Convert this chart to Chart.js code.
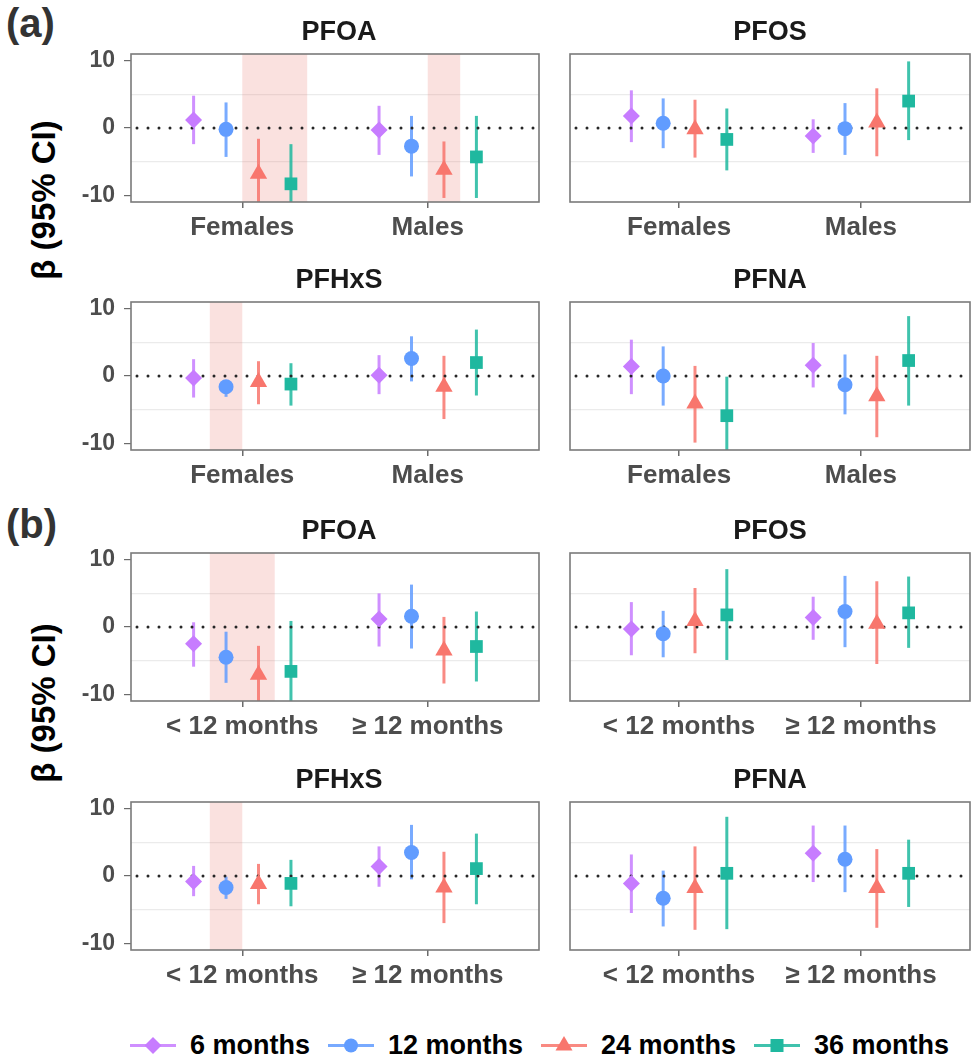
<!DOCTYPE html>
<html>
<head>
<meta charset="utf-8">
<script src="https://cdn.jsdelivr.net/npm/chart.js@4.4.1/dist/chart.umd.min.js"></script>
<style>
  html, body { margin: 0; padding: 0; background: #fff; overflow: hidden; }
  #wrap { position: relative; width: 974px; height: 1062px; overflow: hidden;
          font-family: "Liberation Sans", Arial, Helvetica, sans-serif; }
  #wrap canvas { position: absolute; }
  .title { position: absolute; font-weight: bold; font-size: 27px; color: #1a1a1a;
           transform: translate(-50%, -50%); white-space: nowrap; }
  .tag { position: absolute; font-weight: bold; font-size: 40px; line-height: 46px; color: #333; }
  .ytitle { position: absolute; font-weight: bold; font-size: 33px; color: #000; white-space: nowrap;
            transform: translate(-50%, -50%) rotate(-90deg); }
  #legend { position: absolute; left: 130px; top: 1027px; display: flex; align-items: center; }
  #legend .item { display: flex; align-items: center; margin-right: 18px; }
  #legend .item span { font-weight: bold; font-size: 27px; color: #000; margin-left: 14px; }
</style>
</head>
<body>
<div id="wrap"></div>
<script>
// ---- data ----
const sexGroups = ["Females", "Males"];
const ageGroups = ["< 12 months", "\u2265 12 months"];
const seriesLabels = ["6 months", "12 months", "24 months", "36 months"];
const seriesColors = ["#C77CFF", "#619CFF", "#F8766D", "#1FB89F"];
const seriesShapes = ["rectRot", "circle", "triangle", "rect"];
const yTickValues = [-10, 0, 10];

// rows = groups, columns = 6 / 12 / 24 / 36 months
// (a) by sex
const sexPfoaEst  = [[1.2, -0.2, -6.8, -8.3], [-0.3, -2.7, -6.2, -4.3]];
const sexPfoaLow  = [[-2.4, -4.3, -12.4, -14.3], [-4.0, -7.2, -10.4, -10.4]];
const sexPfoaHigh = [[4.8, 3.8, -1.6, -2.4], [3.3, 1.8, -2.0, 1.8]];
const sexPfoaSig  = [[0, 0, 1, 1], [0, 0, 1, 0]];

const sexPfosEst  = [[1.8, 0.7, -0.2, -1.7], [-1.2, -0.1, 0.8, 4.0]];
const sexPfosLow  = [[-2.1, -3.0, -4.4, -6.3], [-3.7, -4.0, -4.2, -1.8]];
const sexPfosHigh = [[5.6, 4.4, 4.2, 2.9], [1.3, 3.7, 5.9, 9.9]];
const sexPfosSig  = [[0, 0, 0, 0], [0, 0, 0, 0]];

const sexPfhxsEst  = [[-0.3, -1.6, -0.9, -1.2], [0.1, 2.6, -1.6, 2.0]];
const sexPfhxsLow  = [[-3.2, -3.1, -4.2, -4.4], [-2.7, -0.8, -6.4, -2.9]];
const sexPfhxsHigh = [[2.5, -0.6, 2.2, 1.9], [3.1, 5.9, 3.0, 6.9]];
const sexPfhxsSig  = [[0, 1, 0, 0], [0, 0, 0, 0]];

const sexPfnaEst  = [[1.4, 0.0, -4.1, -5.9], [1.6, -1.3, -3.0, 2.3]];
const sexPfnaLow  = [[-2.7, -4.4, -9.9, -11.8], [-1.7, -5.7, -9.1, -4.4]];
const sexPfnaHigh = [[5.4, 4.4, 1.5, -0.1], [4.9, 3.2, 3.0, 8.9]];
const sexPfnaSig  = [[0, 0, 0, 0], [0, 0, 0, 0]];

// (b) by breastfeeding duration
const agePfoaEst  = [[-2.5, -4.5, -7.1, -6.6], [1.2, 1.6, -3.5, -2.9]];
const agePfoaLow  = [[-5.9, -8.3, -12.0, -14.1], [-2.9, -3.2, -8.4, -8.1]];
const agePfoaHigh = [[0.7, -0.7, -2.8, 0.9], [5.0, 6.3, 1.5, 2.3]];
const agePfoaSig  = [[0, 1, 1, 0], [0, 0, 0, 0]];

const agePfosEst  = [[-0.3, -1.0, 0.9, 1.8], [1.4, 2.3, 0.5, 2.1]];
const agePfosLow  = [[-4.2, -4.5, -3.9, -4.9], [-1.9, -3.0, -5.5, -3.1]];
const agePfosHigh = [[3.7, 2.4, 5.8, 8.6], [4.5, 7.6, 6.8, 7.5]];
const agePfosSig  = [[0, 0, 0, 0], [0, 0, 0, 0]];

const agePfhxsEst  = [[-0.8, -1.7, -1.2, -1.1], [1.4, 3.5, -1.7, 1.1]];
const agePfhxsLow  = [[-3.0, -3.4, -4.2, -4.5], [-1.6, -0.5, -7.0, -4.2]];
const agePfhxsHigh = [[1.5, -0.1, 1.8, 2.4], [4.4, 7.6, 3.6, 6.3]];
const agePfhxsSig  = [[0, 1, 0, 0], [0, 0, 0, 0]];

const agePfnaEst  = [[-1.1, -3.3, -1.8, 0.4], [3.4, 2.5, -1.8, 0.4]];
const agePfnaLow  = [[-5.5, -7.5, -8.0, -7.9], [-0.9, -2.4, -7.7, -4.6]];
const agePfnaHigh = [[3.2, 0.8, 4.4, 8.8], [7.5, 7.5, 4.0, 5.4]];
const agePfnaSig  = [[0, 0, 0, 0], [0, 0, 0, 0]];

// ---- layout ----
const FONT = '"Liberation Sans", Arial, Helvetica, sans-serif';
const dodge = [-0.2625, -0.0875, 0.0875, 0.2625];
const bandHalf = 0.0875;
const pointRadius = [8.5, 7.5, 10, 9];
const colCanvasLeft = [72, 560];
const colCanvasWidth = [477, 420];
const rowPanelTop = [54, 302, 553, 802];
const panelHeight = 148;
const xAxisHeight = 45;
const padTop = 14;

const panels = [
  { title: "PFOA",  groups: sexGroups, est: sexPfoaEst,  low: sexPfoaLow,  high: sexPfoaHigh,  sig: sexPfoaSig,  row: 0, col: 0 },
  { title: "PFOS",  groups: sexGroups, est: sexPfosEst,  low: sexPfosLow,  high: sexPfosHigh,  sig: sexPfosSig,  row: 0, col: 1 },
  { title: "PFHxS", groups: sexGroups, est: sexPfhxsEst, low: sexPfhxsLow, high: sexPfhxsHigh, sig: sexPfhxsSig, row: 1, col: 0 },
  { title: "PFNA",  groups: sexGroups, est: sexPfnaEst,  low: sexPfnaLow,  high: sexPfnaHigh,  sig: sexPfnaSig,  row: 1, col: 1 },
  { title: "PFOA",  groups: ageGroups, est: agePfoaEst,  low: agePfoaLow,  high: agePfoaHigh,  sig: agePfoaSig,  row: 2, col: 0 },
  { title: "PFOS",  groups: ageGroups, est: agePfosEst,  low: agePfosLow,  high: agePfosHigh,  sig: agePfosSig,  row: 2, col: 1 },
  { title: "PFHxS", groups: ageGroups, est: agePfhxsEst, low: agePfhxsLow, high: agePfhxsHigh, sig: agePfhxsSig, row: 3, col: 0 },
  { title: "PFNA",  groups: ageGroups, est: agePfnaEst,  low: agePfnaLow,  high: agePfnaHigh,  sig: agePfnaSig,  row: 3, col: 1 },
];

const wrap = document.getElementById("wrap");

function addDiv(cls, text, x, y) {
  const d = document.createElement("div");
  d.className = cls;
  d.textContent = text;
  d.style.left = x + "px";
  d.style.top = y + "px";
  wrap.appendChild(d);
  return d;
}

// shading, error bars, zero line, panel border
const decorPlugin = {
  id: "decor",
  beforeDatasetsDraw(chart, args, opts) {
    const p = opts.panel;
    const { ctx, chartArea: a } = chart;
    const x = chart.scales.x, y = chart.scales.y;
    ctx.save();
    ctx.beginPath();
    ctx.rect(a.left, a.top, a.right - a.left, a.bottom - a.top);
    ctx.clip();

    // shaded bands for significant estimates (contiguous runs merged)
    ctx.fillStyle = "rgba(232, 120, 110, 0.22)";
    p.sig.forEach((flags, g) => {
      let s = 0;
      while (s < flags.length) {
        if (!flags[s]) { s++; continue; }
        let e = s;
        while (e + 1 < flags.length && flags[e + 1]) e++;
        const x0 = x.getPixelForValue(g + 1 + dodge[s] - bandHalf);
        const x1 = x.getPixelForValue(g + 1 + dodge[e] + bandHalf);
        ctx.fillRect(x0, a.top, x1 - x0, a.bottom - a.top);
        s = e + 1;
      }
    });

    // error bars
    ctx.lineWidth = 3;
    ctx.lineCap = "butt";
    ctx.globalAlpha = 0.85;
    p.est.forEach((row, g) => row.forEach((v, s) => {
      const px = x.getPixelForValue(g + 1 + dodge[s]);
      ctx.strokeStyle = seriesColors[s];
      ctx.beginPath();
      ctx.moveTo(px, y.getPixelForValue(p.low[g][s]));
      ctx.lineTo(px, y.getPixelForValue(p.high[g][s]));
      ctx.stroke();
    }));
    ctx.globalAlpha = 1;

    // dotted zero line
    const zy = y.getPixelForValue(0);
    ctx.strokeStyle = "#262626";
    ctx.lineWidth = 3;
    ctx.lineCap = "round";
    ctx.setLineDash([0, 11]);
    ctx.beginPath();
    ctx.moveTo(a.left + 6, zy);
    ctx.lineTo(a.right, zy);
    ctx.stroke();
    ctx.restore();
  },
  afterDraw(chart) {
    const { ctx, chartArea: a } = chart;
    ctx.save();
    ctx.strokeStyle = "#7a7a7a";
    ctx.lineWidth = 1.6;
    ctx.strokeRect(a.left, a.top, a.right - a.left, a.bottom - a.top);
    ctx.restore();
  }
};

panels.forEach((p) => {
  const isLeft = p.col === 0;
  const canvas = document.createElement("canvas");
  canvas.width = colCanvasWidth[p.col];
  canvas.height = padTop + panelHeight + xAxisHeight;
  canvas.style.left = colCanvasLeft[p.col] + "px";
  canvas.style.top = (rowPanelTop[p.row] - padTop) + "px";
  wrap.appendChild(canvas);

  const left = colCanvasLeft[p.col] + 2 + (isLeft ? 57 : 0);
  const right = colCanvasLeft[p.col] + colCanvasWidth[p.col] - 2;
  addDiv("title", p.title, (left + right) / 2, rowPanelTop[p.row] - 23);

  const datasets = seriesLabels.map((label, s) => ({
    label,
    data: p.groups.map((gName, g) => ({ x: g + 1 + dodge[s], y: p.est[g][s] })),
    pointStyle: seriesShapes[s],
    pointRadius: pointRadius[s],
    backgroundColor: seriesColors[s],
    borderColor: seriesColors[s],
    borderWidth: 0,
    showLine: false,
  }));

  new Chart(canvas.getContext("2d"), {
    type: "scatter",
    data: { datasets },
    options: {
      responsive: false,
      animation: false,
      events: [],
      layout: { padding: { top: padTop, right: 2, left: 2, bottom: 0 } },
      plugins: { legend: { display: false }, tooltip: { enabled: false }, decor: { panel: p } },
      scales: {
        x: {
          type: "linear", min: 0.4, max: 2.6,
          afterBuildTicks: (sc) => { sc.ticks = [1, 2].map((v) => ({ value: v })); },
          afterFit: (sc) => {
            sc.height = xAxisHeight;
            sc.paddingLeft = 0; sc.paddingRight = 0; sc.paddingTop = 0; sc.paddingBottom = 0;
          },
          border: { display: false },
          grid: { drawOnChartArea: false, tickLength: 6, color: "#6b6b6b", lineWidth: 1.5 },
          ticks: {
            autoSkip: false, maxRotation: 0, padding: 4, color: "#4d4d4d",
            font: { family: FONT, size: 26, weight: "bold" },
            callback: (v) => p.groups[v - 1],
          },
        },
        y: {
          min: -11, max: 11,
          afterBuildTicks: (sc) => { sc.ticks = [-10, -5, 0, 5, 10].map((v) => ({ value: v })); },
          afterFit: (sc) => {
            sc.width = isLeft ? 57 : 0;
            sc.paddingLeft = 0; sc.paddingRight = 0; sc.paddingTop = 0; sc.paddingBottom = 0;
          },
          border: { display: false },
          grid: {
            lineWidth: 1.2,
            drawTicks: isLeft,
            tickLength: 7,
            color: (c) => (c.tick && Math.abs(c.tick.value) === 5 ? "#ebebeb" : "rgba(0,0,0,0)"),
            tickColor: (c) => (c.tick && Math.abs(c.tick.value) === 5 ? "rgba(0,0,0,0)" : "#6b6b6b"),
          },
          ticks: {
            display: isLeft, autoSkip: false, padding: 9, color: "#4d4d4d",
            font: { family: FONT, size: 23, weight: "bold" },
            callback: (v) => (yTickValues.includes(v) ? String(v) : ""),
          },
        },
      },
    },
    plugins: [decorPlugin],
  });
});

// section tags and y titles
addDiv("tag", "(a)", 6, 0);
addDiv("tag", "(b)", 6, 501);
addDiv("ytitle", "\u03b2 (95% CI)", 44, 200);
addDiv("ytitle", "\u03b2 (95% CI)", 44, 703);

// legend
const legend = document.createElement("div");
legend.id = "legend";
const shapeSvg = [
  (c) => `<polygon points="23,10 31.5,18.5 23,27 14.5,18.5" fill="${c}"/>`,
  (c) => `<circle cx="23" cy="18.5" r="7" fill="${c}"/>`,
  (c) => `<polygon points="23,9 31.5,23.5 14.5,23.5" fill="${c}"/>`,
  (c) => `<rect x="16.5" y="12" width="13" height="13" fill="${c}"/>`,
];
seriesLabels.forEach((label, s) => {
  const item = document.createElement("div");
  item.className = "item";
  item.innerHTML =
    `<svg width="46" height="37"><line x1="0" y1="18.5" x2="46" y2="18.5" stroke="${seriesColors[s]}" stroke-width="3" opacity="0.85"/>` +
    shapeSvg[s](seriesColors[s]) + `</svg><span>${label}</span>`;
  legend.appendChild(item);
});
wrap.appendChild(legend);
</script>
</body>
</html>
